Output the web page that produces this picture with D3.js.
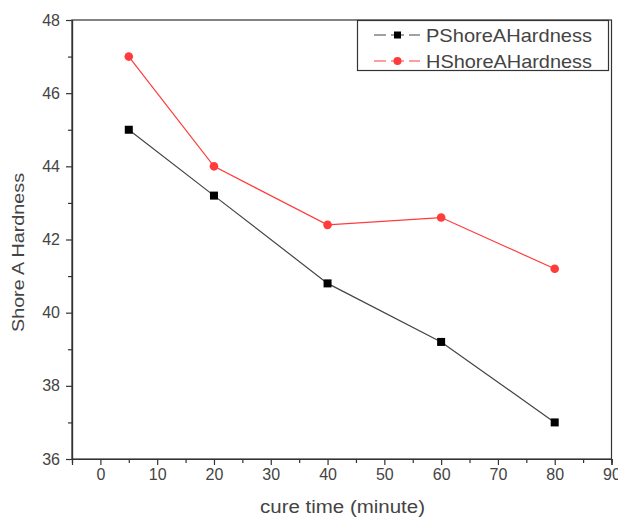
<!DOCTYPE html>
<html><head><meta charset="utf-8">
<script src="https://cdn.jsdelivr.net/npm/d3@7"></script>
<style>body{margin:0;background:#fff}svg{display:block}text{font-family:Arial,"Liberation Sans",sans-serif}</style>
</head><body>
<svg id="c" width="618" height="520"></svg>
<script>
const cureTimes = [5, 20, 40, 60, 80];
const pHardness = [45.0, 43.2, 40.8, 39.2, 37.0];
const hHardness = [47.0, 44.0, 42.4, 42.6, 41.2];
const seriesNames = ["PShoreAHardness", "HShoreAHardness"];
const xTicks = [0, 10, 20, 30, 40, 50, 60, 70, 80, 90];
const xMinor = [5, 15, 25, 35, 45, 55, 65, 75, 85];
const yTicks = [36, 38, 40, 42, 44, 46, 48];
const yMinor = [37, 39, 41, 43, 45, 47];

const svg = d3.select("#c");
const L = 72, R = 611.5, T = 20, B = 459;
const x = d3.scaleLinear().domain([-5, 90]).range([L, R]);
const y = d3.scaleLinear().domain([36, 48]).range([B, T]);
const axisCol = "#333", textCol = "#444";

// frame
svg.append("rect").attr("x", L).attr("y", T).attr("width", R - L).attr("height", B - T)
  .attr("fill", "none").attr("stroke", axisCol).attr("stroke-width", 1.2);

const xAx = svg.append("g").attr("transform", `translate(0,${B})`)
  .call(d3.axisBottom(x).tickValues(xTicks).tickSize(6).tickPadding(4).tickFormat(d3.format("d")));
const xAxMin = svg.append("g").attr("transform", `translate(0,${B})`)
  .call(d3.axisBottom(x).tickValues(xMinor).tickSize(4).tickFormat(""));
const yAx = svg.append("g").attr("transform", `translate(${L},0)`)
  .call(d3.axisLeft(y).tickValues(yTicks).tickSize(6).tickPadding(6).tickFormat(d3.format("d")));
const yAxMin = svg.append("g").attr("transform", `translate(${L},0)`)
  .call(d3.axisLeft(y).tickValues(yMinor).tickSize(4).tickFormat(""));
[xAx, xAxMin, yAx, yAxMin].forEach(g => {
  g.select(".domain").attr("stroke", axisCol).attr("stroke-width", 1.2);
  g.selectAll(".tick line").attr("stroke", axisCol).attr("stroke-width", 1.2);
  g.selectAll(".tick text").attr("fill", textCol).attr("font-size", 16);
});

svg.append("text").attr("x", 342.5).attr("y", 513).attr("text-anchor", "middle")
  .attr("fill", textCol).attr("font-size", 17.5)
  .attr("textLength", 165).attr("lengthAdjust", "spacingAndGlyphs").text("cure time (minute)");
svg.append("text").attr("transform", "translate(24,252.5) rotate(-90)").attr("text-anchor", "middle")
  .attr("fill", textCol).attr("font-size", 17)
  .attr("textLength", 159).attr("lengthAdjust", "spacingAndGlyphs").text("Shore A Hardness");

const line = d3.line().x((d, i) => x(cureTimes[i])).y(d => y(d));
const pCol = "#444", hCol = "#ff3b3b";
svg.append("path").datum(pHardness).attr("d", line).attr("fill", "none").attr("stroke", pCol).attr("stroke-width", 1.2);
svg.append("path").datum(hHardness).attr("d", line).attr("fill", "none").attr("stroke", hCol).attr("stroke-width", 1.2);

svg.selectAll(".psq").data(pHardness).enter().append("rect")
  .attr("x", (d, i) => x(cureTimes[i]) - 4).attr("y", d => y(d) - 4)
  .attr("width", 8).attr("height", 8).attr("fill", "#000");
svg.selectAll(".hc").data(hHardness).enter().append("circle")
  .attr("cx", (d, i) => x(cureTimes[i])).attr("cy", d => y(d)).attr("r", 4.3).attr("fill", hCol);

// legend
const lg = svg.append("g");
lg.append("rect").attr("x", 357.5).attr("y", 20.5).attr("width", 251).attr("height", 50)
  .attr("fill", "#fff").attr("stroke", axisCol).attr("stroke-width", 1.2);
const cols = [pCol, hCol];
seriesNames.forEach((n, i) => {
  const yy = 35 + i * 26;
  lg.append("line").attr("x1", 374).attr("x2", 420).attr("y1", yy).attr("y2", yy)
    .attr("stroke", cols[i]).attr("stroke-width", 1.2);
  if (i === 0) {
    lg.append("rect").attr("x", 394).attr("y", yy - 3.5).attr("width", 7).attr("height", 7).attr("fill", "#000");
  } else {
    lg.append("circle").attr("cx", 397.5).attr("cy", yy).attr("r", 4).attr("fill", hCol);
  }
  lg.append("rect").attr("x", 386).attr("y", yy - 2).attr("width", 5).attr("height", 4).attr("fill", "#fff");
  lg.append("rect").attr("x", 404).attr("y", yy - 2).attr("width", 5).attr("height", 4).attr("fill", "#fff");
  lg.append("text").attr("x", 426).attr("y", yy + 6.5).attr("fill", textCol).attr("font-size", 18.5)
    .attr("textLength", 166).attr("lengthAdjust", "spacingAndGlyphs").text(n);
});
</script>
</body></html>
